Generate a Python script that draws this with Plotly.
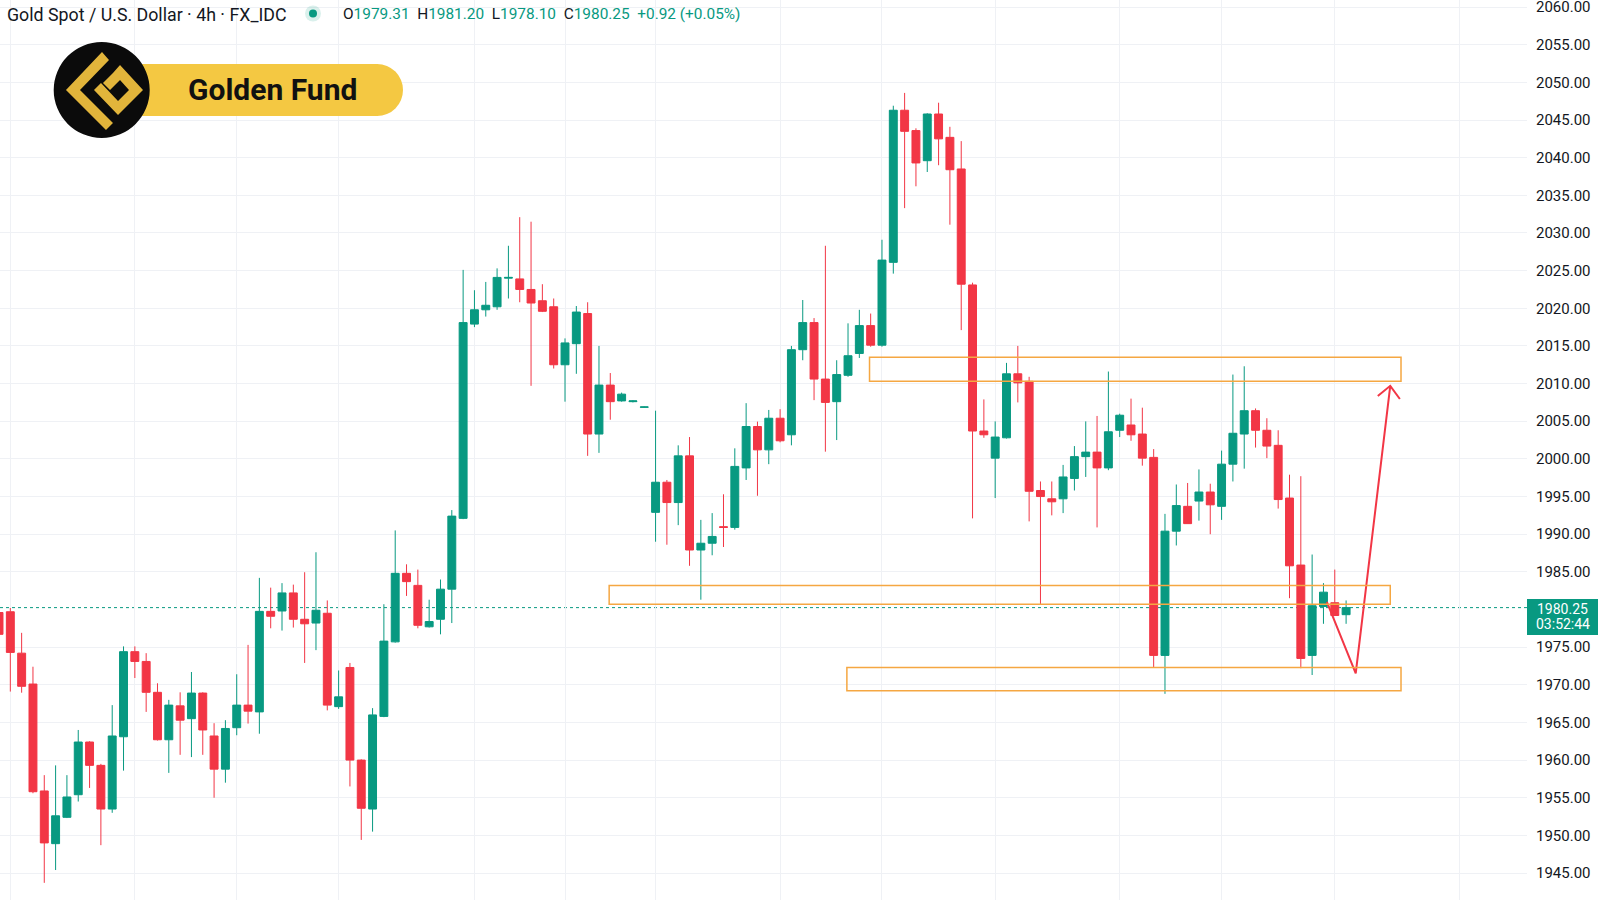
import plotly.graph_objects as go

# ---------------- data (4h candles) ----------------
opens = [1979.6, 1979.7, 1974.2, 1970.1, 1955.9, 1948.9, 1952.4, 1955.4, 1962.4, 1959.3,
         1953.5, 1963.1, 1974.4, 1973.1, 1969.0, 1962.7, 1967.2, 1965.5, 1968.9, 1963.2,
         1958.8, 1964.3, 1967.3, 1966.4, 1979.75, 1979.8, 1982.2, 1978.7, 1978.2, 1979.5,
         1967.1, 1972.3, 1960.0, 1953.5, 1965.8, 1975.7, 1984.8, 1983.2, 1977.7, 1978.7,
         1982.7, 1992.1, 2017.9, 2019.8, 2020.2, 2024.0, 2023.9, 2022.5, 2021.0, 2020.2,
         2012.5, 2015.3, 2019.3, 2003.3, 2009.8, 2007.7, 2007.6, 2006.85, 1992.9, 1996.9,
         1994.2, 2000.4, 1987.9, 1988.8, 1991.0, 1990.9, 1998.8, 2004.3, 2001.2, 2005.4,
         2003.2, 2014.5, 2018.1, 2010.6, 2007.6, 2011.1, 2014.0, 2017.7, 2015.1, 2026.1,
         2046.3, 2043.6, 2039.6, 2045.8, 2042.7, 2038.5, 2023.1, 2003.7, 2000.1, 2002.8,
         2011.3, 2010.3, 1995.8, 1994.7, 1994.7, 1997.4, 2000.3, 2000.9, 1998.8, 2003.8,
         2004.5, 2003.3, 2000.2, 1973.9, 1990.4, 1993.7, 1994.4, 1995.6, 1993.7, 1999.3,
         2003.3, 2006.4, 2003.8, 2001.8, 1994.8, 1985.9, 1973.9, 1980.4, 1980.9, 1979.31]
highs = [1980.5, 1980.2, 1976.9, 1972.4, 1958.0, 1959.3, 1958.0, 1964.0, 1962.5, 1959.5,
         1967.3, 1975.1, 1975.1, 1974.2, 1970.2, 1968.0, 1969.0, 1971.7, 1969.0, 1964.9,
         1965.3, 1971.4, 1975.3, 1984.2, 1982.9, 1983.5, 1983.3, 1984.95, 1987.6, 1981.2,
         1971.9, 1972.9, 1960.1, 1966.9, 1980.7, 1990.5, 1986.0, 1985.3, 1981.3, 1983.98,
         1993.2, 2025.1, 2022.4, 2023.5, 2025.3, 2028.3, 2032.1, 2031.5, 2023.2, 2021.3,
         2016.0, 2020.3, 2020.8, 2015.0, 2011.4, 2008.8, 2007.8, 2006.95, 2006.4, 1997.2,
         2001.8, 2002.9, 1991.9, 1992.8, 1995.3, 2001.4, 2007.4, 2004.95, 2006.5, 2006.6,
         2015.0, 2021.1, 2018.7, 2028.3, 2013.1, 2018.0, 2019.8, 2019.3, 2029.1, 2046.9,
         2048.6, 2043.9, 2045.9, 2047.3, 2044.1, 2042.2, 2023.4, 2007.9, 2004.98, 2012.75,
         2015.0, 2010.9, 1997.0, 1997.0, 1999.2, 2001.7, 2004.98, 2005.7, 2011.6, 2006.0,
         2008.0, 2006.8, 2001.3, 1992.7, 1996.6, 1996.8, 1998.6, 1996.7, 2001.1, 2011.2,
         2012.3, 2006.7, 2005.4, 2003.8, 1997.9, 1997.7, 1987.3, 1983.5, 1985.3, 1981.20]
lows = [1976.0, 1969.1, 1968.95, 1955.6, 1943.7, 1945.4, 1952.3, 1954.5, 1956.3, 1948.7,
        1953.0, 1958.6, 1970.9, 1966.4, 1962.6, 1958.3, 1960.7, 1960.4, 1960.7, 1955.0,
        1957.0, 1963.3, 1964.85, 1963.5, 1977.5, 1977.2, 1977.6, 1972.9, 1974.6, 1966.6,
        1966.8, 1956.5, 1949.4, 1950.5, 1965.7, 1975.6, 1981.8, 1977.5, 1977.6, 1976.7,
        1978.2, 1992.0, 2017.5, 2018.9, 2019.8, 2021.3, 2020.8, 2009.7, 2019.5, 2012.0,
        2007.6, 2011.3, 2000.4, 2000.8, 2005.2, 2007.6, 2007.5, 2006.8, 1989.0, 1988.6,
        1991.2, 1985.8, 1981.3, 1987.2, 1988.3, 1990.6, 1997.2, 1995.1, 1999.3, 2002.2,
        2001.8, 2013.1, 2007.8, 2000.96, 2002.5, 2010.9, 2013.4, 2014.9, 2014.9, 2024.6,
        2033.3, 2036.2, 2038.1, 2039.0, 2031.1, 2017.1, 1992.1, 2002.8, 1994.8, 2002.7,
        2007.5, 1991.7, 1980.7, 1992.5, 1992.8, 1995.8, 1997.6, 1990.9, 1998.5, 2002.9,
        2002.4, 1999.1, 1972.3, 1968.8, 1988.5, 1991.4, 1991.8, 1990.0, 1991.9, 1997.0,
        1998.7, 2001.5, 2000.1, 1993.4, 1981.5, 1972.2, 1971.3, 1978.1, 1979.2, 1978.10]
closes = [1976.7, 1974.3, 1969.8, 1955.8, 1949.0, 1952.6, 1955.1, 1962.4, 1959.3, 1953.5,
          1963.2, 1974.4, 1973.1, 1969.0, 1962.7, 1967.3, 1965.3, 1968.9, 1964.0, 1958.8,
          1964.2, 1967.3, 1966.5, 1979.75, 1979.1, 1982.2, 1978.7, 1978.1, 1979.9, 1967.3,
          1968.4, 1960.0, 1953.6, 1966.0, 1975.8, 1984.8, 1983.7, 1977.9, 1978.4, 1982.7,
          1992.4, 2018.1, 2019.8, 2020.4, 2024.1, 2024.1, 2022.5, 2020.7, 2019.6, 2012.5,
          2015.4, 2019.5, 2003.3, 2009.8, 2007.6, 2008.6, 2007.7, 2006.9, 1996.9, 1994.2,
          2000.4, 1987.9, 1988.8, 1989.7, 1990.9, 1999.0, 2004.3, 2001.2, 2005.4, 2002.4,
          2014.5, 2018.1, 2010.6, 2007.5, 2011.2, 2013.7, 2017.7, 2015.1, 2026.4, 2046.3,
          2043.5, 2039.3, 2045.8, 2042.5, 2038.4, 2023.2, 2003.7, 2003.2, 2002.9, 2011.3,
          2010.1, 1995.7, 1995.0, 1994.3, 1997.6, 2000.3, 2000.9, 1998.8, 2003.6, 2005.8,
          2003.2, 2000.1, 1973.9, 1990.4, 1993.8, 1991.4, 1995.6, 1993.9, 1999.3, 2003.4,
          2006.4, 2003.8, 2001.7, 1994.6, 1985.8, 1973.5, 1980.5, 1982.3, 1979.2, 1980.25]
bar_index = list(range(len(opens)))

price_ticks = [1945, 1950, 1955, 1960, 1965, 1970, 1975, 1985, 1990, 1995, 2000, 2005,
               2010, 2015, 2020, 2025, 2030, 2035, 2040, 2045, 2050, 2055, 2060]
time_grid = [1, 12, 21, 30, 42, 50, 58, 69, 78, 88, 99, 108, 118, 129]

last_price = 1980.25
countdown = "03:52:44"

# zones: (x_start, x_end, low, high) in bar units / price
zones = [(76.9, 123.85, 2010.3, 2013.5),
         (53.9, 122.9, 1980.7, 1983.2),
         (74.9, 123.85, 1969.2, 1972.3)]
# projection path
path_x = [117.3, 119.85, 122.9]
path_y = [1981.0, 1971.5, 2009.7]
head_x = [121.8, 122.9, 123.75]
head_y = [2008.35, 2009.7, 2007.95]

UP = "#089981"
DN = "#F23645"
ORANGE = "#F5A742"
GRID = "#eff1f5"
TXT = "#131722"

W, H = 1600, 900
PLOT_W = 1527.0


def px(X):
    return X / PLOT_W


def py(Y):
    return 1 - Y / H


fig = go.Figure()
fig.add_trace(go.Candlestick(
    x=bar_index, open=opens, high=highs, low=lows, close=closes,
    increasing=dict(line=dict(color=UP, width=1), fillcolor=UP),
    decreasing=dict(line=dict(color=DN, width=1), fillcolor=DN),
    whiskerwidth=0, hoverinfo="skip", showlegend=False))

fig.add_trace(go.Scatter(x=path_x, y=path_y, mode="lines",
                         line=dict(color=DN, width=2), hoverinfo="skip", showlegend=False))
fig.add_trace(go.Scatter(x=head_x, y=head_y, mode="lines",
                         line=dict(color=DN, width=2), hoverinfo="skip", showlegend=False))

shapes = []
for x0, x1, lo, hi in zones:
    shapes.append(dict(type="rect", xref="x", yref="y", x0=x0, x1=x1, y0=lo, y1=hi,
                       line=dict(color=ORANGE, width=1.5), fillcolor="rgba(0,0,0,0)",
                       layer="above"))
# last price dotted line
shapes.append(dict(type="line", xref="paper", yref="y", x0=0, x1=1, y0=last_price, y1=last_price,
                   line=dict(color=UP, width=1, dash="dot"), layer="below"))
# last price label box
shapes.append(dict(type="rect", xref="paper", yref="paper", x0=px(1527), x1=px(1598),
                   y0=py(635), y1=py(599), fillcolor=UP, line=dict(width=0), layer="above"))

# header status dot
shapes.append(dict(type="circle", xref="paper", yref="paper", x0=px(305), x1=px(321),
                   y0=py(21.5), y1=py(5.5), fillcolor="rgba(8,153,129,0.15)", line=dict(width=0)))
shapes.append(dict(type="circle", xref="paper", yref="paper", x0=px(309), x1=px(317),
                   y0=py(17.5), y1=py(9.5), fillcolor=UP, line=dict(width=0)))

# logo: yellow pill + black circle + gold emblem
PILL = "#F4C842"
shapes.append(dict(type="rect", xref="paper", yref="paper", x0=px(100), x1=px(378),
                   y0=py(116), y1=py(64), fillcolor=PILL, line=dict(width=0), layer="above"))
shapes.append(dict(type="circle", xref="paper", yref="paper", x0=px(351), x1=px(403),
                   y0=py(116), y1=py(64), fillcolor=PILL, line=dict(width=0), layer="above"))
shapes.append(dict(type="circle", xref="paper", yref="paper", x0=px(53.7), x1=px(149.7),
                   y0=py(138), y1=py(42), fillcolor="#0b0b0b", line=dict(width=0), layer="above"))


def poly(points):
    s = "M " + " L ".join(f"{px(a):.5f},{py(b):.5f}" for a, b in points) + " Z"
    return s


GOLD = "#E2B53B"
# outer chevron
shapes.append(dict(type="path", xref="paper", yref="paper", layer="above",
                   path=poly([(102, 52), (66, 90), (106, 130), (113, 123), (80, 90), (109, 60)]),
                   fillcolor=GOLD, line=dict(width=0)))
# inner folded square
shapes.append(dict(type="path", xref="paper", yref="paper", layer="above",
                   path=poly([(120, 65), (143, 90), (118, 115), (94, 90), (101, 83), (118, 101),
                              (129, 90), (120, 80), (110, 90), (103, 83), (113, 73)]),
                   fillcolor=GOLD, line=dict(width=0)))

annotations = [
    dict(xref="paper", yref="paper", x=px(5), y=py(14.5), xanchor="left", yanchor="middle",
         text="Gold Spot / U.S. Dollar · 4h · FX_IDC", showarrow=False,
         font=dict(family="Roboto", size=17.8, color=TXT)),
    dict(xref="paper", yref="paper", x=px(341), y=py(14.5), xanchor="left", yanchor="middle",
         text=(f"<span style='color:{TXT}'>O</span>1979.31  "
               f"<span style='color:{TXT}'>H</span>1981.20  "
               f"<span style='color:{TXT}'>L</span>1978.10  "
               f"<span style='color:{TXT}'>C</span>1980.25  +0.92 (+0.05%)"),
         showarrow=False, font=dict(family="Roboto", size=15.4, color=UP)),
    dict(xref="paper", yref="paper", x=px(272), y=py(90), xanchor="center", yanchor="middle",
         text="<b>Golden Fund</b>", showarrow=False,
         font=dict(family="Roboto", size=30, color="#111111")),
    dict(xref="paper", yref="paper", x=px(1562.5), y=py(609), xanchor="center", yanchor="middle",
         text=f"{last_price:.2f}", showarrow=False,
         font=dict(family="Roboto", size=14, color="white")),
    dict(xref="paper", yref="paper", x=px(1562.5), y=py(624), xanchor="center", yanchor="middle",
         text=countdown, showarrow=False,
         font=dict(family="Roboto", size=14, color="white")),
]

fig.update_layout(
    width=W, height=H,
    margin=dict(l=0, r=W - PLOT_W, t=0, b=0, pad=0, autoexpand=False),
    paper_bgcolor="white", plot_bgcolor="white",
    shapes=shapes, annotations=annotations,
    showlegend=False,
    boxgap=0.3, boxgroupgap=0,
    xaxis=dict(range=[0.088, 134.98], rangeslider=dict(visible=False),
               tickmode="array", tickvals=time_grid, showticklabels=False,
               showgrid=True, gridcolor=GRID, gridwidth=1, zeroline=False, showline=False,
               fixedrange=True, automargin=False),
    yaxis=dict(range=[1941.42, 2060.94], side="right",
               tickmode="array", tickvals=price_ticks,
               ticktext=[f"{v:.2f}" for v in price_ticks],
               tickfont=dict(family="Roboto", size=15, color=TXT),
               showgrid=True, gridcolor=GRID, gridwidth=1, zeroline=False, showline=False,
               ticks="", ticklabelstandoff=8, ticklabeloverflow="allow", automargin=False),
)

fig.write_html("out.html")
